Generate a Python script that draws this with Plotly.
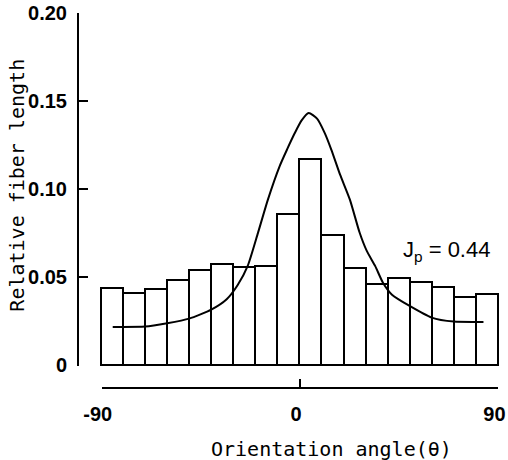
import plotly.graph_objects as go

# Histogram: orientation angle bins (deg) and relative fiber length
bin_centers = [-85, -75, -65, -55, -45, -35, -25, -15, -5, 5, 15, 25, 35, 45, 55, 65, 75, 85]
rel_length = [0.044, 0.0412, 0.043, 0.0483, 0.0541, 0.0577, 0.0556, 0.0562, 0.0861,
              0.1172, 0.0737, 0.0549, 0.0459, 0.0497, 0.0472, 0.0446, 0.0389, 0.0406]

# Fitted distribution curve
curve_x = [-84.7, -70, -60, -50, -40, -33, -28, -23.5, -18.8, -14.3, -9, -5.6, -2.1, 1, 4.2,
           8, 11.5, 14.5, 18.5, 22.9, 27.3, 30.5, 34.4, 37.9, 42, 50, 60, 70, 83.5]
curve_y = [0.0217, 0.0219, 0.0238, 0.0264, 0.0315, 0.0374, 0.0455, 0.0562, 0.0751, 0.094,
           0.1129, 0.1225, 0.1318, 0.139, 0.1432, 0.140, 0.1318, 0.1223, 0.108, 0.094,
           0.0753, 0.065, 0.0562, 0.0468, 0.040, 0.0336, 0.027, 0.0247, 0.0245]

y_ticks = [0, 0.05, 0.10, 0.15, 0.20]
y_ticktext = ["0", "0.05", "0.10", "0.15", "0.20"]
x_ticks = [-90, 0, 90]
x_ticktext = ["-90", "0", "90"]

tick_font = dict(family="Liberation Sans Narrow, Liberation Sans, Arial", size=20,
                 color="black", weight="bold")
title_font = dict(family="DejaVu Sans Mono", size=20, color="black")

fig = go.Figure()
fig.add_trace(go.Bar(
    x=bin_centers, y=rel_length, width=10,
    marker=dict(color="white", line=dict(color="black", width=2)),
    showlegend=False, hoverinfo="skip",
))
fig.add_trace(go.Scatter(
    x=curve_x, y=curve_y, mode="lines",
    line=dict(color="black", width=2, shape="spline", smoothing=0.6),
    showlegend=False, hoverinfo="skip",
))
# invisible trace to carry the separate bracket-style x axis
fig.add_trace(go.Scatter(x=[-90, 90], y=[0, 0], xaxis="x2", yaxis="y",
                         mode="none", showlegend=False, hoverinfo="skip"))

fig.update_layout(
    width=508, height=460, autosize=False,
    margin=dict(l=79, r=7.5, t=13, b=72, autoexpand=False),
    paper_bgcolor="white", plot_bgcolor="rgba(0,0,0,0)",
    bargap=0,
    xaxis=dict(range=[-100, 91], visible=False, domain=[0, 1], automargin=False),
    xaxis2=dict(
        range=[-90, 90], domain=[0.0539, 0.9964], anchor="free", position=0,
        automargin=False,
        showline=True, linecolor="black", linewidth=1.5,
        ticks="inside", ticklen=8, tickwidth=1.5, tickcolor="black",
        tickvals=x_ticks, ticktext=x_ticktext, tickfont=tick_font,
        ticklabelstandoff=8, ticklabelshift=-4, ticklabeloverflow="allow",
        showgrid=False, zeroline=False,
    ),
    yaxis=dict(
        range=[-0.0005, 0.2], domain=[0.0587, 1], automargin=False,
        showline=True, linecolor="black", linewidth=2,
        ticks="inside", ticklen=9, tickwidth=2, tickcolor="black",
        tickvals=y_ticks, ticktext=y_ticktext, tickfont=tick_font,
        ticklabelstandoff=6,
        showgrid=False, zeroline=False,
    ),
    annotations=[
        dict(text="Relative fiber length", xref="paper", yref="paper",
             x=-0.146, y=0.541, xanchor="center", yanchor="middle", textangle=-90,
             showarrow=False, font=title_font),
        dict(text="Orientation angle(\u03b8)", xref="paper", yref="paper",
             x=0.600, y=-0.163, xanchor="center", yanchor="middle",
             showarrow=False, font=title_font),
        dict(text="J<sub>p</sub> = 0.44", xref="x", yref="y",
             x=66.5, y=0.0647, xanchor="center", yanchor="middle",
             showarrow=False, font=dict(family="Liberation Sans, Arial", size=22, color="black")),
    ],
)

fig.write_html("out.html", config={"displayModeBar": False},
               post_script="document.body.style.margin='0';")
